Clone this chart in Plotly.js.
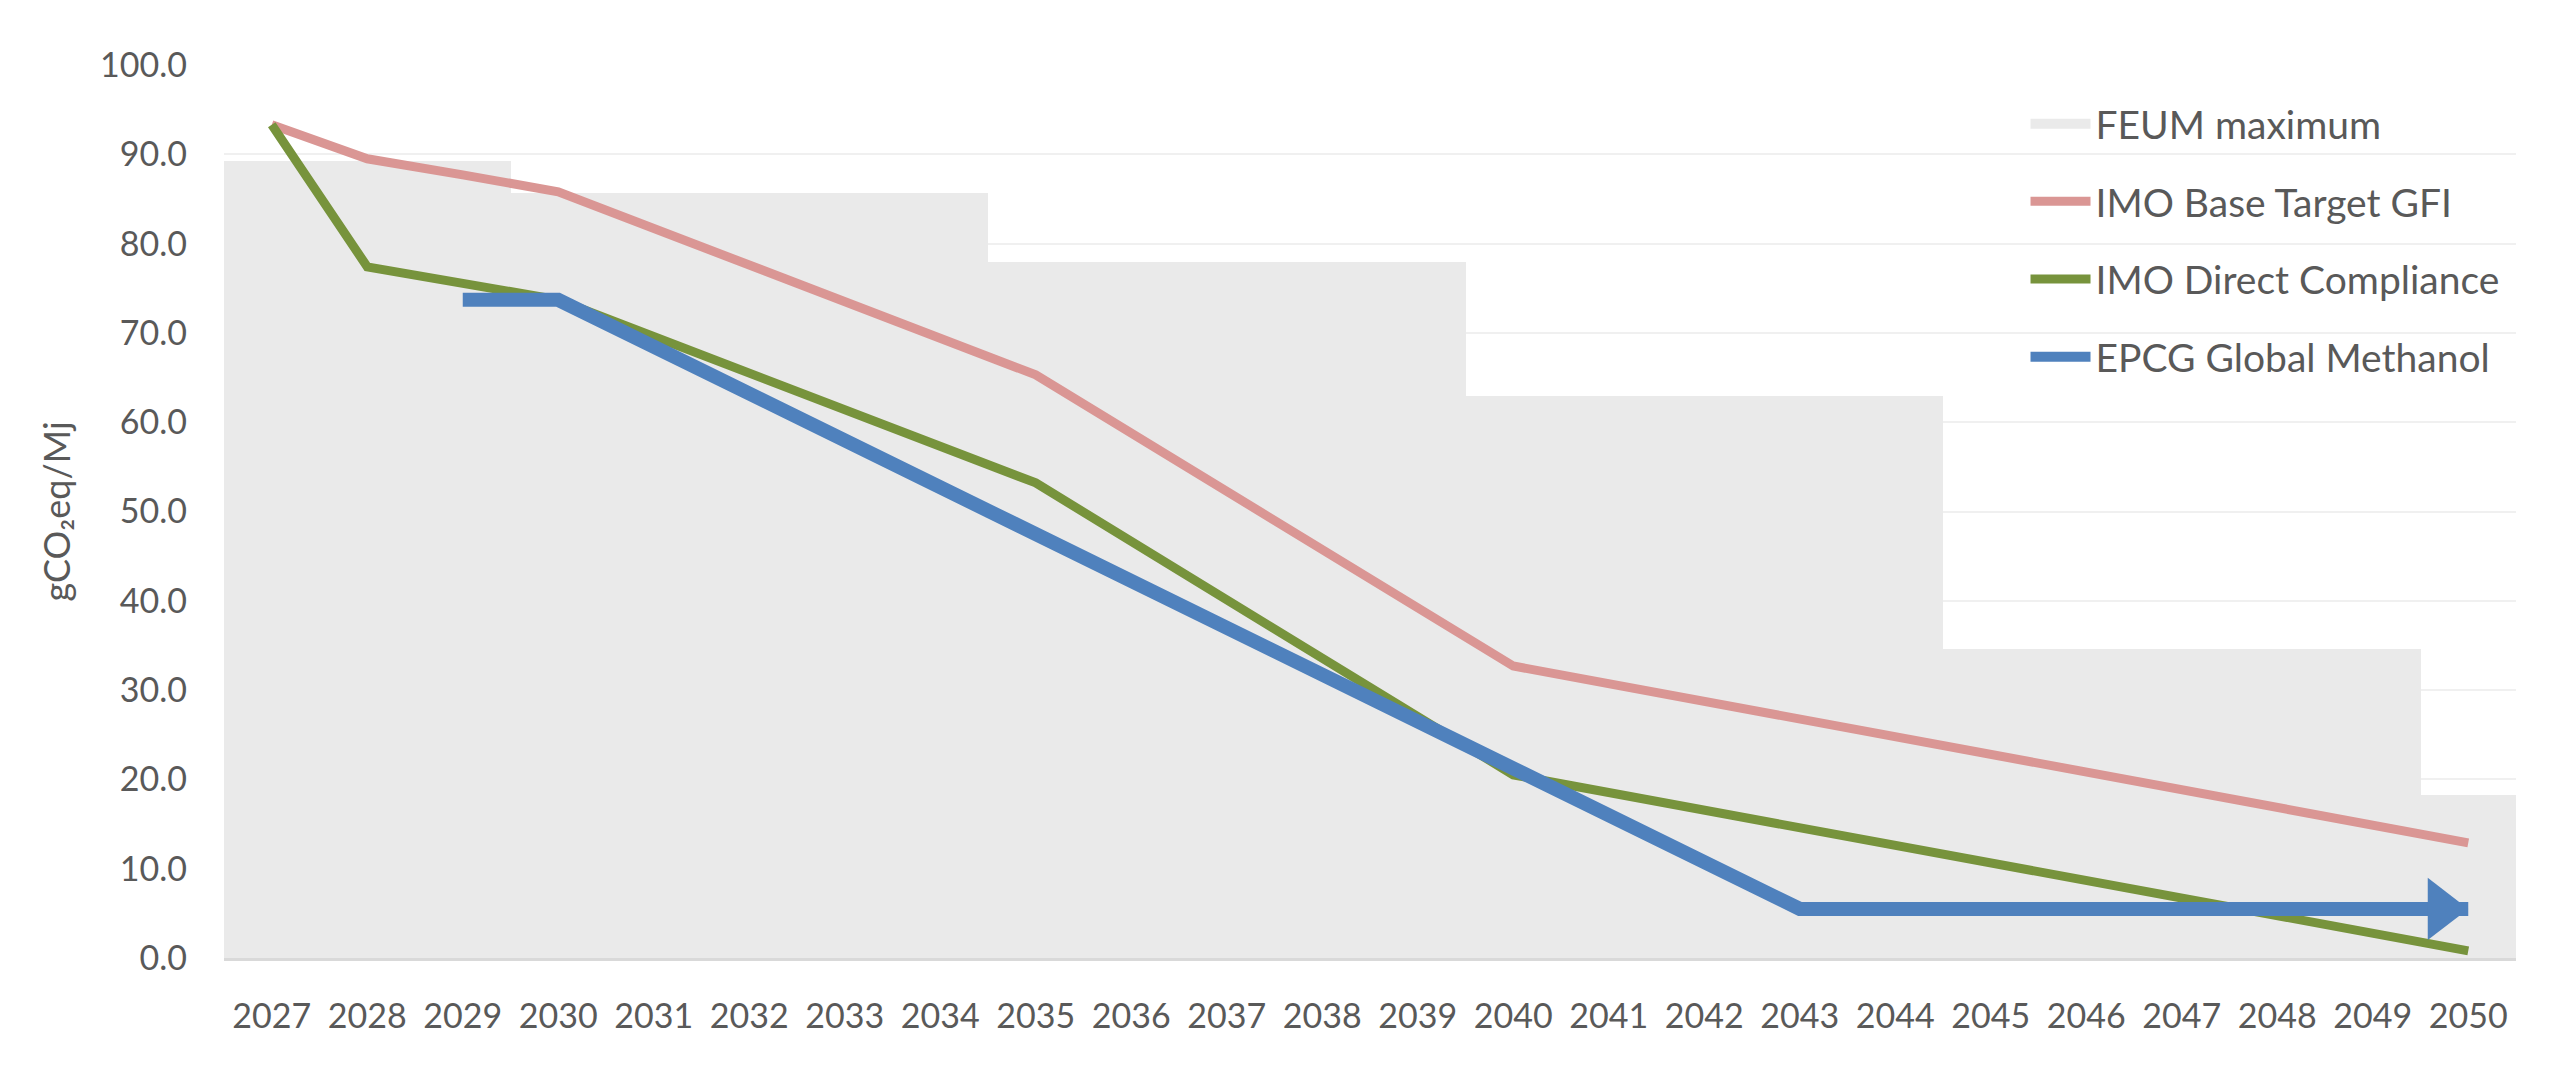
<!DOCTYPE html>
<html>
<head>
<meta charset="utf-8">
<script src="https://cdn.plot.ly/plotly-3.0.1.min.js"></script>
<style>
  html, body { margin: 0; padding: 0; background: #ffffff; }
  #chart { width: 2560px; height: 1089px; }
</style>
</head>
<body>
<div id="chart"></div>
<script>
// GFI pathways vs FEUM maximum, gCO2eq/MJ

const years = [
    2027, 2028, 2029, 2030, 2031, 2032, 2033, 2034, 2035, 2036, 2037, 2038,
    2039, 2040, 2041, 2042, 2043, 2044, 2045, 2046, 2047, 2048, 2049, 2050,
];
// FEUM maximum (stepped columns)
const feumMax = [
    89.3, 89.3, 89.3,
    85.7, 85.7, 85.7, 85.7, 85.7,
    77.9, 77.9, 77.9, 77.9, 77.9,
    62.9, 62.9, 62.9, 62.9, 62.9,
    34.6, 34.6, 34.6, 34.6, 34.6,
    18.2,
];
// IMO Base Target GFI (vertices)
const gfiYears = [2027, 2028, 2029, 2030, 2035, 2040, 2050];
const gfiValues = [93.3, 89.5, 87.7, 85.8, 65.3, 32.7, 12.9];
// IMO Direct Compliance
const directYears = [2027, 2028, 2030, 2035, 2040, 2050];
const directValues = [93.3, 77.4, 73.7, 53.2, 20.5, 0.8];
// EPCG Global Methanol
const epcgYears = [2029, 2030, 2043, 2050];
const epcgValues = [73.7, 73.7, 5.5, 5.5];

const yTicks = [0, 10, 20, 30, 40, 50, 60, 70, 80, 90, 100];

const FONT = "Lato, 'Open Sans', 'DejaVu Sans', sans-serif";
const TEXT = "#595959";
const COLORS = {
    feum: "#EAEAEA",
    gfi: "#DA9694",
    direct: "#77933C",
    epcg: "#4F81BD",
};

const lastIdx = epcgYears.length - 1;

const traces = [
    {
        x: years,
        y: feumMax,
        type: "bar",
        width: 1,
        name: "FEUM maximum",
        showlegend: false,
        legendgroup: "feum",
        marker: { color: COLORS.feum, line: { width: 0 } },
    },
    // legend swatch for the columns (wide block like the Excel key)
    {
        x: [null],
        y: [null],
        type: "scatter",
        mode: "lines",
        name: "FEUM maximum",
        legendgroup: "feum",
        line: { color: COLORS.feum, width: 23 },
    },
    {
        x: gfiYears,
        y: gfiValues,
        type: "scatter",
        mode: "lines",
        name: "IMO Base Target GFI",
        legendgroup: "gfi",
        line: { color: COLORS.gfi, width: 9 },
    },
    {
        x: directYears,
        y: directValues,
        type: "scatter",
        mode: "lines",
        name: "IMO Direct Compliance",
        legendgroup: "direct",
        line: { color: COLORS.direct, width: 9 },
    },
    {
        x: epcgYears,
        y: epcgValues,
        type: "scatter",
        mode: "lines",
        name: "EPCG Global Methanol",
        legendgroup: "epcg",
        line: {
            color: COLORS.epcg, width: 14,
            backoff: epcgYears.map((_, i) => (i === lastIdx ? 34 : 0)),
        },
    },
    // arrow head on the last EPCG point
    {
        x: [epcgYears[lastIdx]],
        y: [epcgValues[lastIdx]],
        type: "scatter",
        mode: "markers",
        showlegend: false,
        legendgroup: "epcg",
        marker: {
            color: COLORS.epcg,
            opacity: 1,
            symbol: "triangle-up",
            angle: 90,
            size: 54,
            standoff: 27,
            line: { width: 0 },
        },
    },
];

const layout = {
    width: 2560,
    height: 1089,
    paper_bgcolor: "#ffffff",
    plot_bgcolor: "#ffffff",
    margin: { l: 224, r: 44, t: 65, b: 131 },
    font: { family: FONT, color: TEXT, size: 34 },
    bargap: 0,
    showlegend: true,
    xaxis: {
        range: [2026.5, 2050.5],
        tickmode: "array",
        tickvals: years,
        tickformat: "d",
        showgrid: false,
        zeroline: false,
        showline: true,
        linecolor: "#D9D9D9",
        linewidth: 3,
        ticks: "",
        ticklabelstandoff: 26,
        tickfont: { family: FONT, size: 34, color: TEXT },
        fixedrange: true,
    },
    yaxis: {
        range: [0, 100],
        tickmode: "array",
        tickvals: yTicks,
        tickformat: ".1f",
        showgrid: true,
        gridcolor: "#F0F0F0",
        gridwidth: 2,
        zeroline: false,
        showline: false,
        ticks: "",
        ticklabelstandoff: 36,
        tickfont: { family: FONT, size: 34, color: TEXT },
        title: {
            text: "gCO₂eq/Mj",
            font: { family: FONT, size: 36, color: TEXT },
            standoff: 18,
        },
        fixedrange: true,
    },
    legend: {
        x: 0.786,
        xanchor: "left",
        y: 0.97,
        yanchor: "top",
        bgcolor: "rgba(0,0,0,0)",
        font: { family: FONT, size: 39, color: TEXT },
        itemwidth: 60,
        tracegroupgap: 24,
    },
};

Plotly.newPlot("chart", traces, layout, { displayModeBar: false, staticPlot: true });
</script>
</body>
</html>
